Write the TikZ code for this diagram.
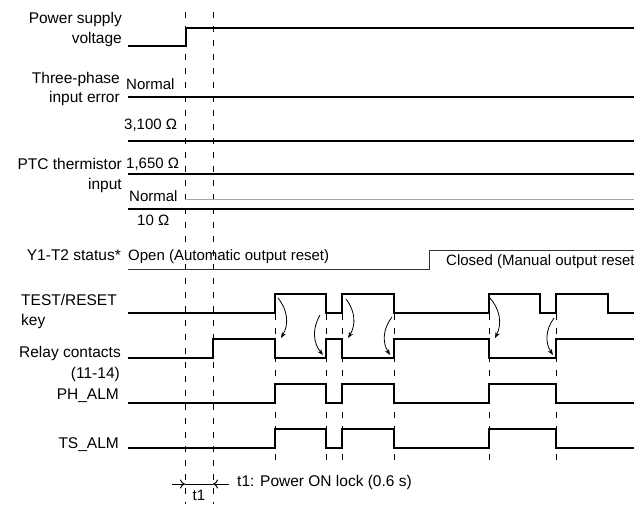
\documentclass[tikz,border=0pt]{standalone}
\usepackage{fontspec}
\setmainfont{Liberation Sans}
\usetikzlibrary{arrows.meta}
\begin{document}
\begin{tikzpicture}[x=1pt,y=-1pt,
  sig/.style={line width=1.5pt},
  lbl/.style={anchor=mid east,inner sep=0pt,font=\fontsize{15.5}{18}\selectfont},
  val/.style={anchor=mid west,inner sep=0pt,font=\fontsize{15}{18}\selectfont},
  guide/.style={line width=0.6pt,dash pattern=on 6pt off 8pt},
  turn/.style={line width=0.8pt,-{Stealth[length=6pt,width=4.5pt]}}]
\useasboundingbox (0,0) rectangle (634,504);
\node[lbl] (psv1) at (122,21) {Power supply};
\node[lbl] (psv2) at (122,41) {voltage};
\node[lbl] (tpe1) at (120,81) {Three-phase};
\node[lbl] (tpe2) at (120,100) {input error};
\node[lbl] (ptc1) at (122,167) {PTC thermistor};
\node[lbl] (ptc2) at (122,187) {input};
\node[lbl] (yst) at (121,258) {Y1-T2 status*};
\node[lbl,anchor=mid west] (key1) at (21,303) {TEST/RESET};
\node[lbl,anchor=mid west] (key2) at (21,323) {key};
\node[lbl] (rly1) at (121,355) {Relay contacts};
\node[lbl] (rly2) at (120,376) {(11-14)};
\node[lbl] (pha) at (119,397) {PH\_ALM};
\node[lbl] (tsa) at (119,446) {TS\_ALM};

\node[val] (nrm1) at (126,87) {Normal};
\node[val] (r3100) at (124,127) {3,100 Ω};
\node[val] (r1650) at (126,166) {1,650 Ω};
\node[val] (nrm2) at (129,199) {Normal};
\node[val] (r10) at (137,223) {10 Ω};
\node[val] (open) at (128,258) {Open (Automatic output reset)};
\node[val] (closed) at (446,263) {Closed (Manual output reset)};

\foreach \x in {185,213}
	\draw[guide] (\x,12)--(\x,504);
\foreach \x in {275,326,342,394,489,556}
	\draw[guide] (\x,300)--(\x,462);

\draw[sig] (128,46)--(186,46)--(186,28)--(634,28);
\foreach \y in {97,141,174,209}
	\draw[sig] (128,\y)--(634,\y);
\draw[gray!70,line width=1pt] (185,199)--(634,199);
\draw[black!80,line width=1pt] (128,269)--(429,269)--(429,250)--(634,250);
\draw[sig] (128,313) -| (275,294) -| (326,313) -| (342,294) -| (394,313) -| (489,294)
	-| (540,313) -| (556,294) -| (608,313) -- (634,313);
\draw[sig] (128,358) -| (213,339) -| (275,358) -| (326,339) -| (342,358) -| (394,339)
	-| (489,358) -| (556,339) -- (634,339);
\foreach \lo/\hi in {403/384,448/429}
	\draw[sig] (128,\lo) -| (275,\hi) -| (326,\lo) -| (342,\hi) -| (394,\lo) -| (489,\hi)
	-| (556,\lo) -- (634,\lo);

\draw[turn] (278,298) to[bend left=35] (281,338);
\draw[turn] (320,315) to[bend right=35] (323,355);
\draw[turn] (346,299) to[bend left=35] (348,338);
\draw[turn] (392,317) to[bend right=35] (390,355);
\draw[turn] (489,297) to[bend left=35] (495,338);
\draw[turn] (554,318) to[bend right=35] (553,355);

\coordinate (t1a) at (185,484);
\coordinate (t1b) at (213,484);
\draw[line width=1pt,-{To[length=5pt,width=9pt]}] (172,484)--(t1a);
\draw[line width=1pt,-{To[length=5pt,width=9pt]}] (229,484)--(t1b);
\draw[line width=1pt] (t1a)--(t1b);
\node[val,anchor=center] (t1) at (199,495.5) {t1};
\node[val,font=\fontsize{15.5}{18}\selectfont] (lock) at (237,484) {t1: Power ON lock (0.6 s)};
\end{tikzpicture}
\end{document}
